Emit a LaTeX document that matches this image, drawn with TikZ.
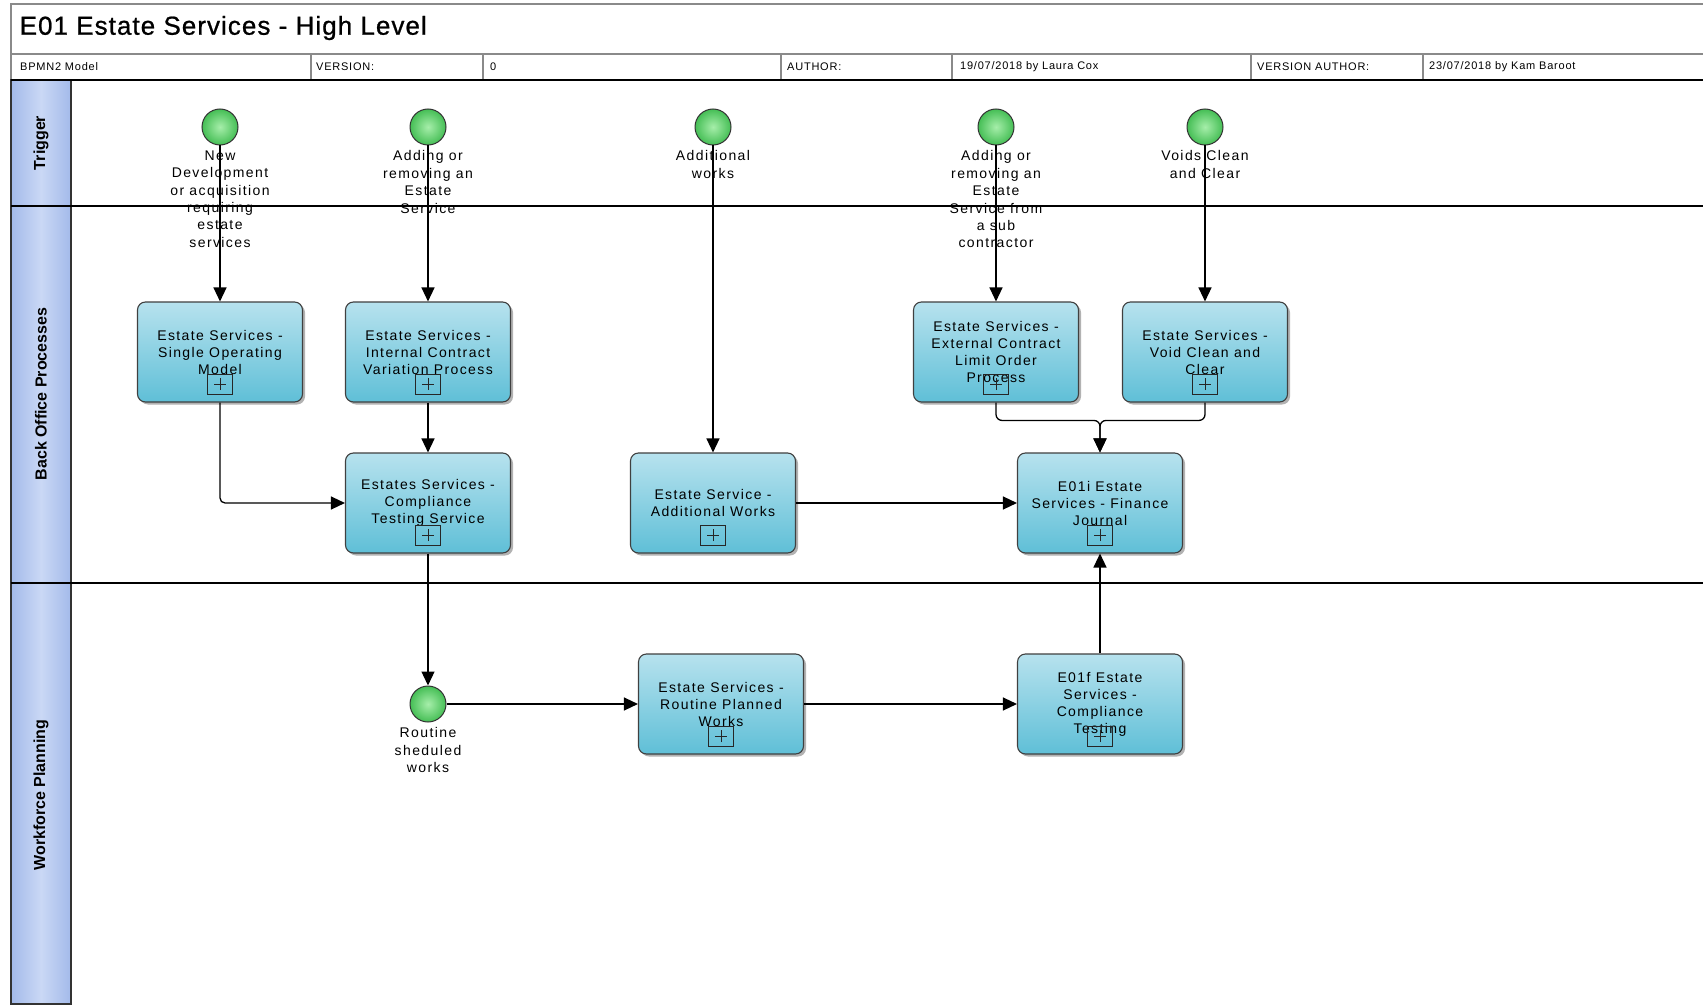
\documentclass[tikz,border=0pt]{standalone}
\usepackage{fontspec}
\setmainfont{Liberation Sans}
\newfontfamily\tfont[LetterSpace=10]{Liberation Sans}
\newfontfamily\hfont[LetterSpace=7]{Liberation Sans}
\newfontfamily\ttlfont[LetterSpace=4,FakeBold=0.8]{Liberation Sans}
\usetikzlibrary{arrows.meta,shadows,calc}
\definecolor{taskTop}{HTML}{B7E2EE}
\definecolor{taskBot}{HTML}{5FBFD7}
\definecolor{evIn}{HTML}{A6EEAA}
\definecolor{evOut}{HTML}{45BE55}
\definecolor{laneA}{HTML}{A3BAEA}
\definecolor{laneB}{HTML}{CAD8F5}
\definecolor{hdrgray}{HTML}{8A8A8A}
\begin{document}
\begin{tikzpicture}[x=1pt,y=-1pt,
  task/.style={rectangle, rounded corners=8pt, draw=black!75, line width=1.1pt,
    top color=taskTop, bottom color=taskBot, minimum width=165pt, minimum height=100pt,
    align=center, font=\tfont\fontsize{14}{17}\selectfont, inner sep=2pt,
    general shadow={fill=black!30, shadow xshift=2.5pt, shadow yshift=-2.5pt}},
  evt/.style={circle, draw=black!80, line width=1pt, inner color=evIn, outer color=evOut,
    minimum size=36pt, inner sep=0pt},
  evlbl/.style={anchor=north, inner sep=0pt, align=center, font=\tfont\fontsize{14}{17.4}\selectfont},
  pm/.style={rectangle, draw=black!85, line width=0.9pt, minimum width=25pt, minimum height=20pt,
    inner sep=0pt, path picture={\draw[line width=0.9pt]
      ([xshift=-6pt]path picture bounding box.center) -- ([xshift=6pt]path picture bounding box.center)
      ([yshift=-6pt]path picture bounding box.center) -- ([yshift=6pt]path picture bounding box.center);}},
  seqflow/.style={draw=black, line width=1.3pt, -{Triangle[length=14pt,width=13pt]}},
  lanelbl/.style={rotate=90, inner sep=0pt, font=\bfseries\fontsize{16}{19}\selectfont},
  hdr/.style={anchor=west, inner sep=0pt, font=\hfont\fontsize{11}{13}\selectfont},
  hdrline/.style={draw=hdrgray, line width=1.1pt},
  lanesep/.style={draw=black, line width=1.3pt}]
\useasboundingbox (0,0) rectangle (1703,1006);
\fill[white] (0,0) rectangle (1703,1006);
% title box and header
\draw[hdrline] (1703,4) -- (11,4) -- (11,80);
\draw[hdrline] (11,54) -- (1703,54);
\foreach \xx in {311,483,781,952,1251,1423} {\draw[hdrline] (\xx,54) -- (\xx,80);}
\node[anchor=west, inner sep=0pt, font=\ttlfont\fontsize{26}{30}\selectfont] (title) at (19.5,28) {E01 Estate Services - High Level};
\node[hdr] (h1) at (20,67) {BPMN2 Model};
\node[hdr] (h2) at (316,67) {VERSION:};
\node[hdr] (h3) at (490,67) {0};
\node[hdr] (h4) at (787,67) {AUTHOR:};
\node[hdr] (h5) at (960,67) {19/07/2018 by Laura Cox};
\node[hdr] (h6) at (1257,67) {VERSION AUTHOR:};
\node[hdr] (h7) at (1429,67) {23/07/2018 by Kam Baroot};
% lanes
\shade[left color=laneA, right color=laneA, middle color=laneB] (11,80) rectangle (71,1004);
\draw[black!80, line width=1.3pt] (11,80) rectangle (71,1004);
\draw[lanesep] (11,80) -- (1703,80);
\draw[lanesep] (11,206) -- (1703,206);
\draw[lanesep] (11,583) -- (1703,583);
\node[lanelbl] (ln1) at (41,143) {Trigger};
\node[lanelbl] (ln2) at (41,394) {Back Office Processes};
\node[lanelbl] (ln3) at (41,795) {Workforce Planning};
% events
\node[evt] (e1) at (220,127) {};
\node[evt] (e2) at (428,127) {};
\node[evt] (e3) at (713,127) {};
\node[evt] (e4) at (996,127) {};
\node[evt] (e5) at (1205,127) {};
\node[evt] (e6) at (428,704) {};
% tasks
\node[task] (t1) at (220,352) {Estate Services -\\Single Operating\\Model};
\node[task] (t2) at (428,352) {Estate Services -\\Internal Contract\\Variation Process};
\node[task] (t3) at (996,352) {Estate Services -\\External Contract\\Limit Order\\Process};
\node[task] (t4) at (1205,352) {Estate Services -\\Void Clean and\\Clear};
\node[task] (t5) at (428,503) {Estates Services -\\Compliance\\Testing Service};
\node[task] (t6) at (713,503) {Estate Service -\\Additional Works};
\node[task] (t7) at (1100,503) {E01i Estate\\Services - Finance\\Journal};
\node[task] (t8) at (721,704) {Estate Services -\\Routine Planned\\Works};
\node[task] (t9) at (1100,704) {E01f Estate\\Services -\\Compliance\\Testing};
\foreach \t in {t1,t2,t3,t4,t5,t6,t7,t8,t9} {\node[pm] (\t p) at ($(\t.center)+(0,32)$) {};}
% connectors
\draw[seqflow] (e1) -- (t1);
\draw[seqflow] (e2) -- (t2);
\draw[seqflow] (e3) -- (t6);
\draw[seqflow] (e4) -- (t3);
\draw[seqflow] (e5) -- (t4);
\draw[seqflow, rounded corners=5pt] (t1) |- (t5);
\draw[seqflow] (t2) -- (t5);
\draw[seqflow, rounded corners=6pt] (t3.south) |- ($(t7.north)+(0,-32)$) -- (t7.north);
\draw[seqflow, rounded corners=6pt] (t4.south) |- ($(t7.north)+(0,-32)$) -- (t7.north);
\draw[seqflow] (t6) -- (t7);
\draw[seqflow] (t5) -- (e6);
\draw[seqflow] (e6) -- (t8);
\draw[seqflow] (t8) -- (t9);
\draw[seqflow] (t9) -- (t7);
% event labels
\node[evlbl] (l1) at ($(e1.south)+(0,5)$) {New\\Development\\or acquisition\\requiring\\estate\\services};
\node[evlbl] (l2) at ($(e2.south)+(0,5)$) {Adding or\\removing an\\Estate\\Service};
\node[evlbl] (l3) at ($(e3.south)+(0,5)$) {Additional\\works};
\node[evlbl] (l4) at ($(e4.south)+(0,5)$) {Adding or\\removing an\\Estate\\Service from\\a sub\\contractor};
\node[evlbl] (l5) at ($(e5.south)+(0,5)$) {Voids Clean\\and Clear};
\node[evlbl] (l6) at ($(e6.south)+(0,5)$) {Routine\\sheduled\\works};
\end{tikzpicture}
\end{document}
